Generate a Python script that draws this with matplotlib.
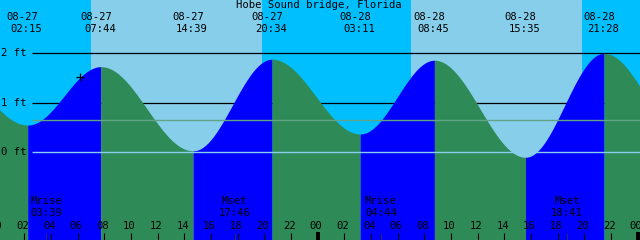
import numpy as np
import matplotlib
matplotlib.use("Agg")
import matplotlib.pyplot as plt

TITLE = "Hobe Sound bridge, Florida"

# Tide extremes, hours counted from 08-27 00:00.
# First and last entries lie off the chart and only shape the edges.
tide_hours = [-4.4, 2.25, 7.733, 14.65, 20.567, 27.183, 32.75, 39.583, 45.467, 51.8]
tide_heights = [1.90, 0.55, 1.73, 0.03, 1.88, 0.37, 1.86, -0.10, 2.00, 0.25]
tide_dates = ["", "08-27", "08-27", "08-27", "08-27", "08-28", "08-28", "08-28", "08-28", ""]
tide_times = ["", "02:15", "07:44", "14:39", "20:34", "03:11", "08:45", "15:35", "21:28", ""]

# Moon rise / set
moon_hours = [3.65, 17.767, 28.733, 42.683]
moon_names = ["Mrise", "Mset", "Mrise", "Mset"]
moon_times = ["03:39", "17:46", "04:44", "18:41"]

# Sun rise / set (daylight spans)
sunrise_hours = [7.0, 31.0]
sunset_hours = [19.82, 43.82]

ft_levels = [2, 1, 0]
msl_level = 0.646
now_hour, now_height = 6.17, 1.52

# Colours (XTide style)
NIGHT = "#00BFFF"
DAY = "#87CEEB"
FLOOD = "#0000FF"
EBB = "#2E8B57"
DATUM = "#87CEEB"
MSL = "#62A386"

# pixel geometry of the 640x240 frame
W, H = 640, 240
PX_PER_HOUR = W / 48.0
T0 = 0.17            # hour at left edge
Y0_PX = 152.3        # pixel row of 0 ft
PX_PER_FT = 49.5


def px_x(px):
    return T0 + px / PX_PER_HOUR


def px_y(py):
    return (Y0_PX - py) / PX_PER_FT


plt.rcParams["font.family"] = ["DejaVu Sans Mono"]
FS = 7.6

fig = plt.figure(figsize=(6.4, 2.4), dpi=100)
ax = fig.add_axes([0, 0, 1, 1])
ax.set_xlim(px_x(0), px_x(W))
ax.set_ylim(px_y(H), px_y(0))
ax.axis("off")

# background: night / day
ax.axvspan(px_x(0), px_x(W), color=NIGHT, lw=0, zorder=0)
for a, b in zip(sunrise_hours, sunset_hours):
    ax.axvspan(a, b, color=DAY, lw=0, zorder=0)

# foot lines behind the tide
x_line0 = px_x(32)
for lev in ft_levels:
    ax.text(px_x(1), lev, f"{lev} ft", ha="left", va="center", fontsize=FS, zorder=5)
ax.hlines([2, 1], x_line0, px_x(W), colors="black", lw=0.9, zorder=1)

# tide curve, filled per rising / falling segment
ybot = px_y(H)
for i in range(len(tide_hours) - 1):
    a, b = tide_hours[i], tide_hours[i + 1]
    h0, h1 = tide_heights[i], tide_heights[i + 1]
    t = np.linspace(a, b, 120)
    h = h0 + (h1 - h0) * (1 - np.cos(np.pi * (t - a) / (b - a))) / 2
    col = FLOOD if h1 > h0 else EBB
    ax.fill_between(t, h, ybot, color=col, lw=0, antialiased=False, zorder=2)

# datum and mean level lines over the fill
ax.hlines([0], x_line0, px_x(W), colors=DATUM, lw=1.0, zorder=3)
ax.hlines([msl_level], x_line0, px_x(W), colors=MSL, lw=1.0, zorder=3)

# now marker
ax.plot(now_hour, now_height, marker="+", ms=6, mew=0.9, color="black", zorder=6)

# title and high/low labels
ax.text(px_x(319), px_y(5.5), TITLE, ha="center", va="center", fontsize=FS, zorder=6)
dx = 1 / PX_PER_HOUR
for t, d, s in zip(tide_hours, tide_dates, tide_times):
    if not d:
        continue
    ax.text(t - 5 * dx, px_y(17), d, ha="center", va="center", fontsize=FS, zorder=6)
    ax.text(t - 1 * dx, px_y(29), s, ha="center", va="center", fontsize=FS, zorder=6)

# moon labels
for t, n, s in zip(moon_hours, moon_names, moon_times):
    ax.text(t, px_y(201.5), n, ha="center", va="center", fontsize=FS, zorder=6)
    ax.text(t, px_y(213.3), s, ha="center", va="center", fontsize=FS, zorder=6)
    ax.vlines(t, px_y(232.5), ybot, colors="#333333", lw=0.6, zorder=6)

# hour ticks along the bottom
for hr in range(0, 50, 2):
    lw = 2.8 if hr % 24 == 0 else 0.8
    top = 231.7 if hr % 24 == 0 else 232.5
    ax.vlines(hr, px_y(top), ybot, colors="black", lw=lw, zorder=6)
    ax.text(hr - 1.5 * dx, px_y(225.7), f"{hr % 24:02d}", ha="center", va="center",
            fontsize=FS, zorder=6)

fig.savefig("out.png", dpi=100)
